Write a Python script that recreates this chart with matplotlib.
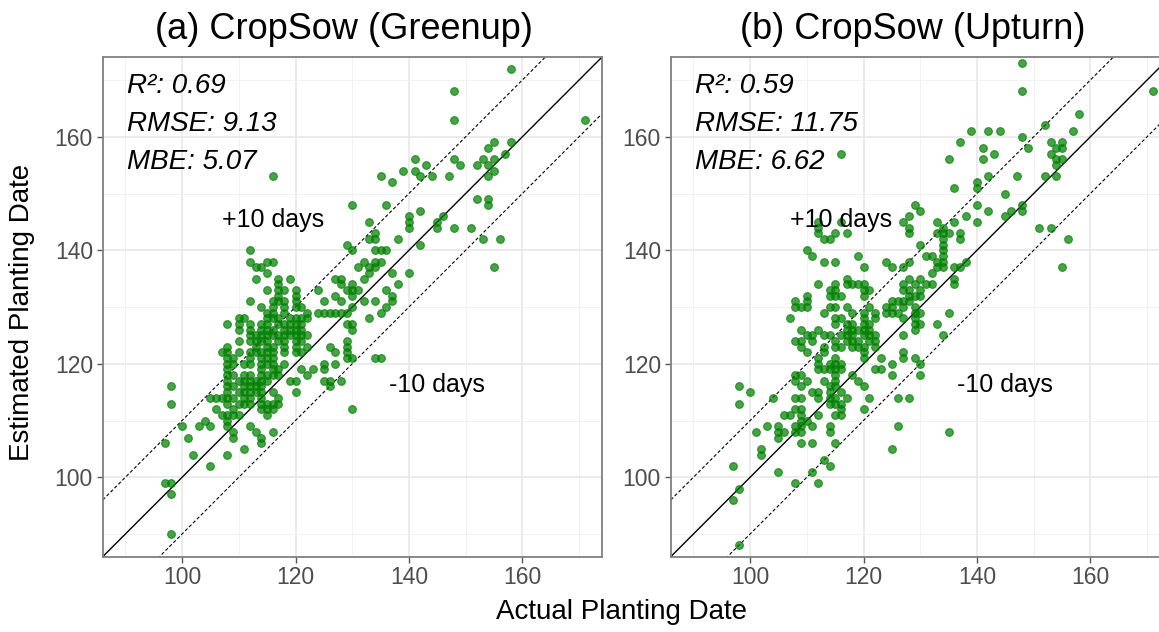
import matplotlib
matplotlib.use('Agg')
import matplotlib.pyplot as plt
import numpy as np

plt.rcParams['font.family'] = ['Liberation Sans', 'DejaVu Sans']

# estimated planting day -> actual planting days observed at that estimate
greenup_rows = [
    (172, [158]), (168, [148]), (163, [148, 171]), (159, [155, 158]), (158, [154]),
    (157, [157]), (156, [141, 148, 153, 155]), (155, [143, 149, 152, 154]),
    (154, [139, 141, 155]), (153, [116, 135, 142, 144, 147, 154]), (152, [137]),
    (149, [152, 154]), (148, [130, 136, 154]), (147, [142]), (146, [140, 146]),
    (145, [133, 140, 145]), (144, [140, 145, 148, 151]), (143, [134]),
    (142, [133, 134, 138, 153, 156]), (141, [129, 142]), (140, [112, 130, 134, 135, 136]),
    (138, [112, 115, 116, 132, 134, 135]), (137, [113, 114, 131, 133, 134, 155]),
    (136, [115, 133, 137, 140]), (135, [113, 117, 119, 127, 128, 132]),
    (134, [117, 128, 130, 138]), (133, [115, 117, 118, 120, 124, 129, 130, 131, 136]),
    (132, [117, 120, 127, 130, 137]),
    (131, [112, 116, 117, 118, 120, 125, 128, 132, 134, 137]),
    (130, [114, 116, 118, 120, 121, 130, 136]),
    (129, [115, 116, 118, 122, 124, 125, 126, 127, 128, 129, 135]),
    (128, [110, 111, 115, 116, 117, 119, 120, 121, 122, 133]),
    (127, [108, 110, 112, 114, 115, 117, 118, 119, 120, 121, 129, 130]),
    (126, [110, 112, 114, 115, 116, 118, 119, 120, 121, 130]),
    (125, [112, 113, 114, 115, 116, 117, 118, 119, 120, 121, 122]),
    (124, [110, 112, 113, 114, 115, 117, 118, 120, 121, 129]),
    (123, [108, 113, 115, 116, 118, 120, 122, 126, 129]),
    (122, [107, 108, 110, 112, 113, 114, 115, 116, 118, 120, 121, 127, 129]),
    (121, [108, 109, 112, 114, 115, 116, 129, 130, 134, 135]),
    (120, [108, 109, 111, 112, 114, 115, 116, 118, 125, 127]),
    (119, [108, 114, 116, 117, 121, 123, 125]),
    (118, [108, 109, 111, 112, 114, 115, 116, 117, 122]),
    (117, [108, 110, 111, 112, 113, 114, 115, 119, 120, 125, 126, 128]),
    (116, [98, 108, 109, 111, 112, 113, 114, 126]),
    (115, [108, 110, 111, 112, 113, 114, 116, 120]),
    (114, [105, 106, 107, 108, 109, 111, 112, 114, 117]),
    (113, [98, 108, 110, 111, 112, 114, 115, 116, 117]),
    (112, [106, 109, 114, 115, 116, 130]), (111, [107, 108, 109, 110, 115]),
    (110, [104, 108]), (109, [100, 103, 105, 108, 112]), (108, [109, 113, 116]),
    (107, [101, 109, 114]), (106, [97, 114]), (105, [111]), (104, [102, 108]),
    (102, [105]), (99, [97, 98]), (97, [98]), (90, [98]),
]

upturn_rows = [
    (173, [148]), (168, [148, 171]), (164, [158]), (162, [152]),
    (161, [139, 142, 144, 157]), (160, [148]), (159, [137, 153, 155]),
    (158, [141, 149, 154, 155]), (157, [116, 143, 153]), (156, [135, 141, 154, 155]),
    (155, [154]), (153, [142, 147, 152, 154]), (152, [140]), (151, [136, 140]),
    (150, [145]), (148, [129, 140, 148]), (147, [130, 142, 146, 148]),
    (146, [128, 138, 145]), (145, [112, 116, 127, 133, 136, 140]),
    (144, [112, 128, 134, 151, 153]), (143, [112, 115, 117, 128, 133, 134, 135, 137]),
    (142, [113, 114, 134, 137, 156]), (141, [130, 134]), (140, [110, 134]),
    (139, [111, 119, 131, 132, 134]), (138, [113, 115, 124, 128, 133, 134, 138]),
    (137, [120, 125, 127, 133, 134, 136, 137, 155]), (136, [132]),
    (135, [117, 128, 130, 136]),
    (134, [112, 115, 117, 118, 119, 120, 127, 129, 131, 132, 136]),
    (133, [114, 115, 120, 121, 127, 128, 130]),
    (132, [110, 114, 115, 116, 120, 128, 129, 130]),
    (131, [108, 110, 125, 126, 127, 128]),
    (130, [108, 109, 110, 114, 115, 117, 121, 124, 125, 127, 129]),
    (129, [113, 118, 120, 122, 124, 125, 126, 129, 130, 135]),
    (128, [107, 115, 116, 120, 122, 127, 129]),
    (127, [115, 117, 118, 120, 121, 129, 130, 133]),
    (126, [109, 112, 117, 118, 119, 120, 121, 129]),
    (125, [110, 111, 113, 114, 116, 117, 118, 120, 121, 122, 127, 134]),
    (124, [108, 109, 111, 115, 117, 118, 119, 121, 122]),
    (123, [109, 113, 115, 116, 118, 119, 120, 122]),
    (122, [110, 113, 120, 127]), (121, [112, 115, 120, 123, 127, 129]),
    (120, [112, 114, 115, 116, 125, 130]),
    (119, [112, 113, 114, 115, 116, 122, 123]),
    (118, [108, 109, 115, 118, 125, 130]), (117, [108, 110, 113, 115, 119]),
    (116, [98, 109, 114, 115, 120]), (115, [100, 111, 112, 114, 116]),
    (114, [104, 108, 109, 112, 114, 115, 117, 121, 126, 128]),
    (113, [98, 114, 115, 116]), (112, [108, 109, 116, 120]),
    (111, [106, 107, 109, 112, 115, 116]), (110, [109, 110]),
    (109, [103, 105, 108, 109, 111, 114, 126]),
    (108, [101, 105, 106, 108, 109, 114, 135]), (107, [105]),
    (106, [109, 111, 115]), (105, [102, 125]), (104, [102]), (103, [113]),
    (102, [97, 114]), (101, [105, 111]), (99, [108, 112]), (98, [98]),
    (96, [97]), (88, [98]),
]

titles = ['(a) CropSow (Greenup)', '(b) CropSow (Upturn)']
r2_vals = [0.69, 0.59]
rmse_vals = [9.13, 11.75]
mbe_vals = [5.07, 6.62]

lims = (86, 174)


def expand(rows):
    xs, ys = [], []
    for est, acts in rows:
        for a in acts:
            xs.append(a)
            ys.append(est)
    return np.array(xs), np.array(ys)


def draw_panel(ax, rows, title, r2, rmse, mbe):
    x, y = expand(rows)
    line = np.array(lims)
    ax.plot(line, line, color='black', lw=1.0, zorder=2)
    ax.plot(line, line + 10, color='black', lw=0.8, ls=(0, (3, 2)), zorder=2)
    ax.plot(line, line - 10, color='black', lw=0.8, ls=(0, (3, 2)), zorder=2)
    ax.scatter(x, y, s=31, color='green', alpha=0.72, linewidths=0.8, zorder=3)

    ax.set_xlim(lims)
    ax.set_ylim(lims)
    ax.set_xticks([100, 120, 140, 160])
    ax.set_yticks([100, 120, 140, 160])
    ax.set_xticks([90, 110, 130, 150, 170], minor=True)
    ax.set_yticks([90, 110, 130, 150, 170], minor=True)
    ax.grid(which='major', color='#e8e8e8', lw=1.2, zorder=0)
    ax.grid(which='minor', color='#f2f2f2', lw=0.7, zorder=0)
    ax.set_axisbelow(True)
    ax.tick_params(which='major', length=4, width=1, color='#555555',
                   labelsize=16.5, labelcolor='#4d4d4d', pad=3)
    ax.tick_params(which='minor', length=0)
    for sp in ax.spines.values():
        sp.set_color('#7f7f7f')
        sp.set_linewidth(1.3)

    ax.text(0.484, 1.055, title, transform=ax.transAxes, ha='center',
            va='center', fontsize=26)
    ax.text(90.3, 169, 'R²: %.2f' % r2, style='italic', fontsize=20, va='center')
    ax.text(90.3, 162.2, 'RMSE: %.2f' % rmse, style='italic', fontsize=20, va='center')
    ax.text(90.3, 155.5, 'MBE: %.2f' % mbe, style='italic', fontsize=20, va='center')
    ax.text(116, 145.3, '+10 days', ha='center', va='center', fontsize=18)
    ax.text(145, 116.3, '-10 days', ha='center', va='center', fontsize=18)


fig = plt.figure(figsize=(11.59, 6.32), dpi=100)
ax_a = fig.add_axes([0.0886, 0.1191, 0.4306, 0.7902])
ax_b = fig.add_axes([0.5787, 0.1191, 0.4306, 0.7902])

draw_panel(ax_a, greenup_rows, titles[0], r2_vals[0], rmse_vals[0], mbe_vals[0])
draw_panel(ax_b, upturn_rows, titles[1], r2_vals[1], rmse_vals[1], mbe_vals[1])

fig.text(0.536, 0.032, 'Actual Planting Date', ha='center', va='center', fontsize=20)
fig.text(0.019, 0.505, 'Estimated Planting Date', ha='center', va='center',
         rotation=90, fontsize=20)

fig.savefig('out.png', dpi=100)
